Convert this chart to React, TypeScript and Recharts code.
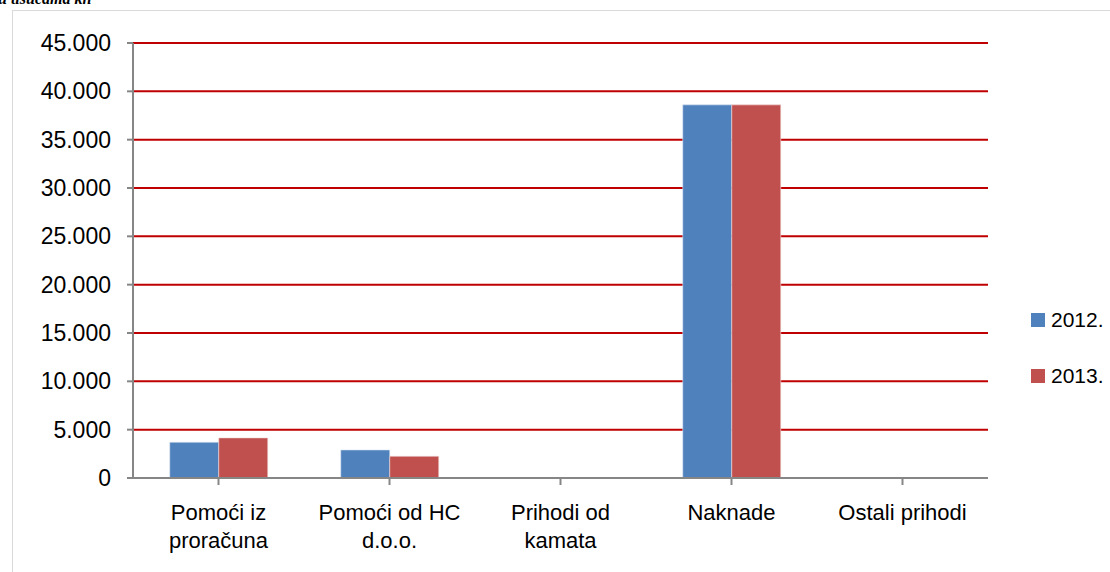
import React from "react";
import { Bar, BarChart, CartesianGrid, XAxis, YAxis } from "recharts";

const CATEGORIES = ["Pomoći iz proračuna", "Pomoći od HC d.o.o.", "Prihodi od kamata", "Naknade", "Ostali prihodi"];
const LABEL_LINES = [
  ["Pomoći iz", "proračuna"],
  ["Pomoći od HC", "d.o.o."],
  ["Prihodi od", "kamata"],
  ["Naknade"],
  ["Ostali prihodi"],
];
const VALUES_2012 = [3700, 2900, 0, 38600, 0];
const VALUES_2013 = [4150, 2250, 0, 38600, 0];
const Y_TICKS = [0, 5000, 10000, 15000, 20000, 25000, 30000, 35000, 40000, 45000];

const FONT = "'Liberation Sans', Arial, sans-serif";
const BLUE = "#4f81bd";
const RED = "#c0504d";

const data = CATEGORIES.map((name, i) => ({
  name,
  y2012: VALUES_2012[i],
  y2013: VALUES_2013[i],
}));

const fmt = (v: number) => v.toLocaleString("de-DE");

function CategoryTick(props: any) {
  const { x, y, payload } = props;
  const idx = CATEGORIES.indexOf(payload.value);
  const lines = LABEL_LINES[idx] ?? [payload.value];
  return (
    <g>
      {lines.map((line, i) => (
        <text
          key={i}
          x={x}
          y={y + 33 + i * 28}
          textAnchor="middle"
          fontFamily={FONT}
          fontSize={22}
          fill="#000"
        >
          {line}
        </text>
      ))}
    </g>
  );
}

const LEGEND_ITEMS = [
  { label: "2012.", color: BLUE },
  { label: "2013.", color: RED },
];

export default function App() {
  return (
    <div style={{ position: "absolute", left: 0, top: 0, width: 1110, height: 572, background: "#fff", overflow: "hidden" }}>
      <div
        style={{
          position: "absolute",
          left: -2,
          top: -10,
          fontFamily: "'Liberation Serif', serif",
          fontStyle: "italic",
          fontWeight: "bold",
          fontSize: 16,
        }}
      >
        u tisućama kn
      </div>
      <div
        style={{
          position: "absolute",
          left: 12,
          top: 10,
          width: 1110,
          height: 600,
          borderLeft: "1px solid #d9d9d9",
          borderTop: "1px solid #d9d9d9",
        }}
      />
      <div style={{ position: "absolute", left: 0, top: 0 }}>
        <BarChart
          width={1110}
          height={572}
          data={data}
          margin={{ top: 43, right: 122, left: 27, bottom: 34 }}
          barCategoryGap="21.5%"
          barGap={0}
        >
          <CartesianGrid horizontal vertical={false} stroke="#c00000" strokeWidth={2} />
          <XAxis
            dataKey="name"
            height={60}
            tick={<CategoryTick />}
            axisLine={{ stroke: "#868686", strokeWidth: 2 }}
            tickLine={{ stroke: "#868686", strokeWidth: 2 }}
            tickSize={7}
            interval={0}
          />
          <YAxis
            width={106}
            domain={[0, 45000]}
            ticks={Y_TICKS}
            tickFormatter={fmt}
            tick={{ fontFamily: FONT, fontSize: 23, fill: "#000" }}
            axisLine={{ stroke: "#868686", strokeWidth: 2 }}
            tickLine={{ stroke: "#868686", strokeWidth: 2 }}
            tickSize={6}
            tickMargin={16}
          />
          <Bar dataKey="y2012" name="2012." fill={BLUE} stroke="#dce6f2" strokeWidth={0.6} isAnimationActive={false} />
          <Bar dataKey="y2013" name="2013." fill={RED} stroke="#f2dcdb" strokeWidth={0.6} isAnimationActive={false} />
        </BarChart>
      </div>
      <div style={{ position: "absolute", left: 1031, top: 292, fontFamily: FONT, fontSize: 21, color: "#000" }}>
        {LEGEND_ITEMS.map((it) => (
          <div key={it.label} style={{ display: "flex", alignItems: "center", height: 56 }}>
            <span style={{ width: 14, height: 14, background: it.color, marginRight: 6 }} />
            <span>{it.label}</span>
          </div>
        ))}
      </div>
    </div>
  );
}
